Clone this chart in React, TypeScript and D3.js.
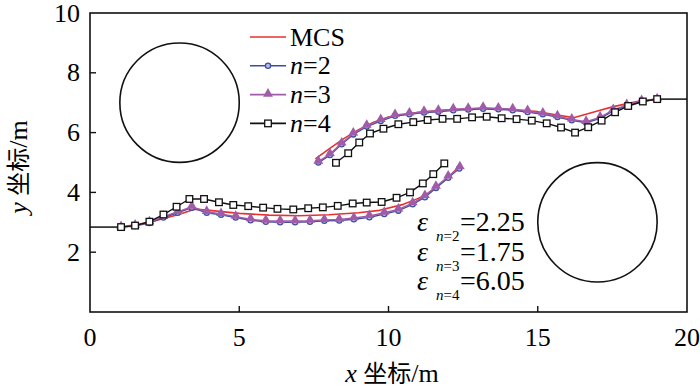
import * as d3 from 'd3'
import { useEffect, useRef } from 'react'

// lower path (first pass)
const mcsLow = [
  [1.04, 2.84], [2.0, 3.0], [3.0, 3.27], [3.5, 3.44], [4.0, 3.4], [5.0, 3.3],
  [6.0, 3.24], [7.0, 3.22], [8.0, 3.25], [9.0, 3.32], [9.7, 3.4], [10.5, 3.6],
  [11.0, 3.8], [11.3, 3.96], [11.7, 4.25], [12.0, 4.5], [12.35, 4.86],
]
const n2Low = [
  [1.04, 2.84], [1.51, 2.88], [1.99, 2.98], [2.46, 3.16], [2.94, 3.32], [3.41, 3.49],
  [3.91, 3.32], [4.39, 3.25], [4.88, 3.16], [5.38, 3.07], [5.89, 3.02], [6.37, 3.0],
  [6.87, 3.0], [7.37, 3.02], [7.85, 3.05], [8.35, 3.06], [8.84, 3.1], [9.36, 3.17],
  [9.86, 3.28], [10.33, 3.39], [10.81, 3.6], [11.22, 3.84], [11.59, 4.15], [12.0, 4.49],
  [12.37, 4.8],
]
const n3Low = [
  [1.04, 2.84], [1.51, 2.89], [1.99, 3.0], [2.46, 3.19], [2.94, 3.35], [3.41, 3.52],
  [3.91, 3.35], [4.39, 3.28], [4.88, 3.19], [5.38, 3.1], [5.89, 3.05], [6.37, 3.04],
  [6.87, 3.04], [7.37, 3.05], [7.85, 3.08], [8.35, 3.09], [8.84, 3.14], [9.36, 3.21],
  [9.86, 3.32], [10.33, 3.43], [10.81, 3.64], [11.22, 3.88], [11.59, 4.19], [12.0, 4.53],
  [12.39, 4.84],
]
const n4Low = [
  [1.04, 2.84], [1.51, 2.89], [1.99, 3.02], [2.46, 3.26], [2.9, 3.52], [3.33, 3.78],
  [3.82, 3.78], [4.32, 3.67], [4.8, 3.58], [5.3, 3.54], [5.8, 3.49], [6.28, 3.45],
  [6.81, 3.43], [7.31, 3.47], [7.8, 3.5], [8.3, 3.55], [8.8, 3.63], [9.27, 3.66],
  [9.77, 3.68], [10.27, 3.82], [10.72, 4.0], [11.15, 4.3], [11.5, 4.61], [11.87, 4.97],
]

// upper path (second pass)
const mcsHigh = [
  [7.55, 5.12], [8.0, 5.45], [8.5, 5.8], [9.0, 6.1], [9.5, 6.35], [10.0, 6.52],
  [11.0, 6.68], [12.0, 6.76], [13.0, 6.8], [14.0, 6.78], [15.0, 6.7], [15.7, 6.58],
  [16.2, 6.5], [17.0, 6.72], [17.5, 6.86], [18.0, 6.97], [18.5, 7.07], [19.0, 7.12],
]
const n2High = [
  [7.65, 5.0], [8.04, 5.25], [8.43, 5.61], [8.82, 5.94], [9.27, 6.2], [9.74, 6.39],
  [10.22, 6.56], [10.7, 6.61], [11.19, 6.67], [11.67, 6.7], [12.17, 6.75], [12.67, 6.77],
  [13.17, 6.8], [13.68, 6.78], [14.16, 6.75], [14.66, 6.69], [15.17, 6.61], [15.66, 6.52],
  [16.14, 6.41], [16.62, 6.33], [17.09, 6.48], [17.53, 6.73], [17.98, 6.9], [18.48, 7.04],
  [19.0, 7.12],
]
const n3High = [
  [7.65, 5.03], [8.04, 5.28], [8.43, 5.64], [8.82, 5.97], [9.27, 6.23], [9.74, 6.42],
  [10.22, 6.59], [10.7, 6.64], [11.19, 6.7], [11.67, 6.73], [12.17, 6.78], [12.67, 6.8],
  [13.17, 6.83], [13.68, 6.81], [14.16, 6.78], [14.66, 6.72], [15.17, 6.64], [15.66, 6.55],
  [16.14, 6.44], [16.62, 6.36], [17.09, 6.51], [17.53, 6.76], [17.98, 6.92], [18.48, 7.06],
  [19.0, 7.12],
]
const n4High = [
  [8.24, 4.99], [8.65, 5.31], [9.02, 5.67], [9.38, 5.97], [9.83, 6.13], [10.33, 6.28],
  [10.83, 6.35], [11.31, 6.42], [11.81, 6.46], [12.3, 6.46], [12.8, 6.51], [13.29, 6.53],
  [13.79, 6.48], [14.29, 6.45], [14.8, 6.4], [15.3, 6.31], [15.78, 6.17], [16.25, 6.0],
  [16.69, 6.18], [17.14, 6.4], [17.59, 6.68], [18.03, 6.89], [18.52, 7.04], [19.0, 7.12],
]

// entry / exit segments
const entryLine = [[0, 2.84], [1.04, 2.84]]
const exitLine = [[19.0, 7.12], [20, 7.12]]

// obstacles: cx, cy, r
const obstacles = [[3, 7, 2], [17, 3, 2]]

const xTicks = [0, 5, 10, 15, 20]
const yTicks = [2, 4, 6, 8, 10]
const errors = [['2', '2.25'], ['3', '1.75'], ['4', '6.05']]

const RED = '#e8312f'
const BLUE = '#3d4e9f'
const PURPLE = '#a15ca9'
const SERIF = '"Liberation Serif", "Times New Roman", serif'
const CJK = '"Noto Sans CJK SC", sans-serif'

const App = () => {
  const svgRef = useRef(null)

  useEffect(() => {
    const svg = d3.select(svgRef.current)
    svg.selectAll('*').remove()

    const x = d3.scaleLinear().domain([0, 20]).range([90, 687])
    const y = d3.scaleLinear().domain([0, 10]).range([312, 13])
    const line = d3.line().x((d) => x(d[0])).y((d) => y(d[1]))

    // obstacles
    svg
      .selectAll('.obst')
      .data(obstacles)
      .enter()
      .append('circle')
      .attr('cx', (d) => x(d[0]))
      .attr('cy', (d) => y(d[1]))
      .attr('r', (d) => x(d[2]) - x(0))
      .attr('fill', 'none')
      .attr('stroke', '#111')
      .attr('stroke-width', 1.6)

    const drawPath = (pts, color, w) =>
      svg
        .append('path')
        .attr('d', line(pts))
        .attr('fill', 'none')
        .attr('stroke', color)
        .attr('stroke-width', w)
        .attr('stroke-linejoin', 'round')

    drawPath(entryLine, '#111', 1.5)
    drawPath(exitLine, '#111', 1.5)

    const circleMarks = (g, pts) =>
      g
        .selectAll('circle')
        .data(pts)
        .enter()
        .append('circle')
        .attr('cx', (d) => x(d[0]))
        .attr('cy', (d) => y(d[1]))
        .attr('r', 2.6)
        .attr('fill', '#b8c0e8')
        .attr('stroke', BLUE)
        .attr('stroke-width', 1.3)

    const triMarks = (g, pts) =>
      g
        .selectAll('path')
        .data(pts)
        .enter()
        .append('path')
        .attr('d', d3.symbol(d3.symbolTriangle, 42))
        .attr('transform', (d) => `translate(${x(d[0])},${y(d[1]) - 0.8})`)
        .attr('fill', PURPLE)

    const squareMarks = (g, pts) =>
      g
        .selectAll('rect')
        .data(pts)
        .enter()
        .append('rect')
        .attr('x', (d) => x(d[0]) - 3.3)
        .attr('y', (d) => y(d[1]) - 3.3)
        .attr('width', 6.6)
        .attr('height', 6.6)
        .attr('fill', 'white')
        .attr('stroke', '#111')
        .attr('stroke-width', 1.3)

    // series
    ;[mcsLow, mcsHigh].forEach((p) => drawPath(p, RED, 1.6))
    ;[n2Low, n2High].forEach((p) => {
      drawPath(p, BLUE, 1.5)
      circleMarks(svg.append('g'), p)
    })
    ;[n3Low, n3High].forEach((p) => {
      drawPath(p, PURPLE, 1.5)
      triMarks(svg.append('g'), p)
    })
    ;[n4Low, n4High].forEach((p) => {
      drawPath(p, '#111', 1.4)
      squareMarks(svg.append('g'), p)
    })

    // frame
    svg
      .append('rect')
      .attr('x', x(0))
      .attr('y', y(10))
      .attr('width', x(20) - x(0))
      .attr('height', y(0) - y(10))
      .attr('fill', 'none')
      .attr('stroke', '#111')
      .attr('stroke-width', 1.6)

    // inward ticks
    svg
      .selectAll('.xt')
      .data(xTicks.slice(1, -1))
      .enter()
      .append('line')
      .attr('x1', (d) => x(d))
      .attr('x2', (d) => x(d))
      .attr('y1', y(0))
      .attr('y2', y(0) - 6)
      .attr('stroke', '#111')
      .attr('stroke-width', 1.4)
    svg
      .selectAll('.yt')
      .data(yTicks.slice(0, -1))
      .enter()
      .append('line')
      .attr('x1', x(0))
      .attr('x2', x(0) + 6)
      .attr('y1', (d) => y(d))
      .attr('y2', (d) => y(d))
      .attr('stroke', '#111')
      .attr('stroke-width', 1.4)

    // tick labels
    svg
      .selectAll('.xl')
      .data(xTicks)
      .enter()
      .append('text')
      .attr('x', (d) => x(d))
      .attr('y', 346)
      .attr('text-anchor', 'middle')
      .style('font-family', SERIF)
      .style('font-size', '26px')
      .text((d) => d)
    svg
      .selectAll('.yl')
      .data(yTicks)
      .enter()
      .append('text')
      .attr('x', 80)
      .attr('y', (d) => y(d) + 8.5)
      .attr('text-anchor', 'end')
      .style('font-family', SERIF)
      .style('font-size', '26px')
      .text((d) => d)

    // axis titles
    const xt = svg
      .append('text')
      .attr('x', 392)
      .attr('y', 382)
      .attr('text-anchor', 'middle')
      .style('font-size', '26px')
    xt.append('tspan').style('font-family', SERIF).style('font-style', 'italic').text('x ')
    xt.append('tspan').style('font-family', CJK).style('font-size', '24px').text('坐标')
    xt.append('tspan').style('font-family', SERIF).text('/m')

    const yt = svg
      .append('text')
      .attr('transform', 'translate(27,167) rotate(-90)')
      .attr('text-anchor', 'middle')
      .style('font-size', '26px')
    yt.append('tspan').style('font-family', SERIF).style('font-style', 'italic').text('y ')
    yt.append('tspan').style('font-family', CJK).style('font-size', '24px').text('坐标')
    yt.append('tspan').style('font-family', SERIF).text('/m')

    // legend
    const legend = [
      { label: 'MCS', color: RED, mark: null },
      { label: '2', color: BLUE, mark: circleMarks },
      { label: '3', color: PURPLE, mark: triMarks },
      { label: '4', color: '#111', mark: squareMarks },
    ]
    legend.forEach((item, i) => {
      const ly = 37 + i * 28.8
      svg
        .append('line')
        .attr('x1', 250)
        .attr('x2', 286)
        .attr('y1', ly)
        .attr('y2', ly)
        .attr('stroke', item.color)
        .attr('stroke-width', 1.6)
      if (item.mark) {
        const g = svg.append('g')
        item.mark(g, [[x.invert(268), y.invert(ly)]])
      }
      const t = svg
        .append('text')
        .attr('x', 290)
        .attr('y', ly + 8.5)
        .style('font-family', SERIF)
        .style('font-size', '26px')
      if (i === 0) {
        t.text(item.label)
      } else {
        t.append('tspan').style('font-style', 'italic').text('n')
        t.append('tspan').text('=' + item.label)
      }
    })

    // error annotations
    errors.forEach((e, i) => {
      const by = 231 + i * 29.5
      svg
        .append('text')
        .attr('x', 417)
        .attr('y', by)
        .style('font-family', SERIF)
        .style('font-size', '28px')
        .style('font-style', 'italic')
        .text('ε')
      const sub = svg
        .append('text')
        .attr('x', 436)
        .attr('y', by + 10)
        .style('font-family', SERIF)
        .style('font-size', '15px')
      sub.append('tspan').style('font-style', 'italic').text('n')
      sub.append('tspan').text('=' + e[0])
      svg
        .append('text')
        .attr('x', 460)
        .attr('y', by)
        .style('font-family', SERIF)
        .style('font-size', '28px')
        .text('=' + e[1])
    })
  }, [])

  return (
    <svg
      ref={svgRef}
      width={700}
      height={388}
      style={{ position: 'absolute', left: 0, top: 0, background: 'white' }}
    />
  )
}

export default App
